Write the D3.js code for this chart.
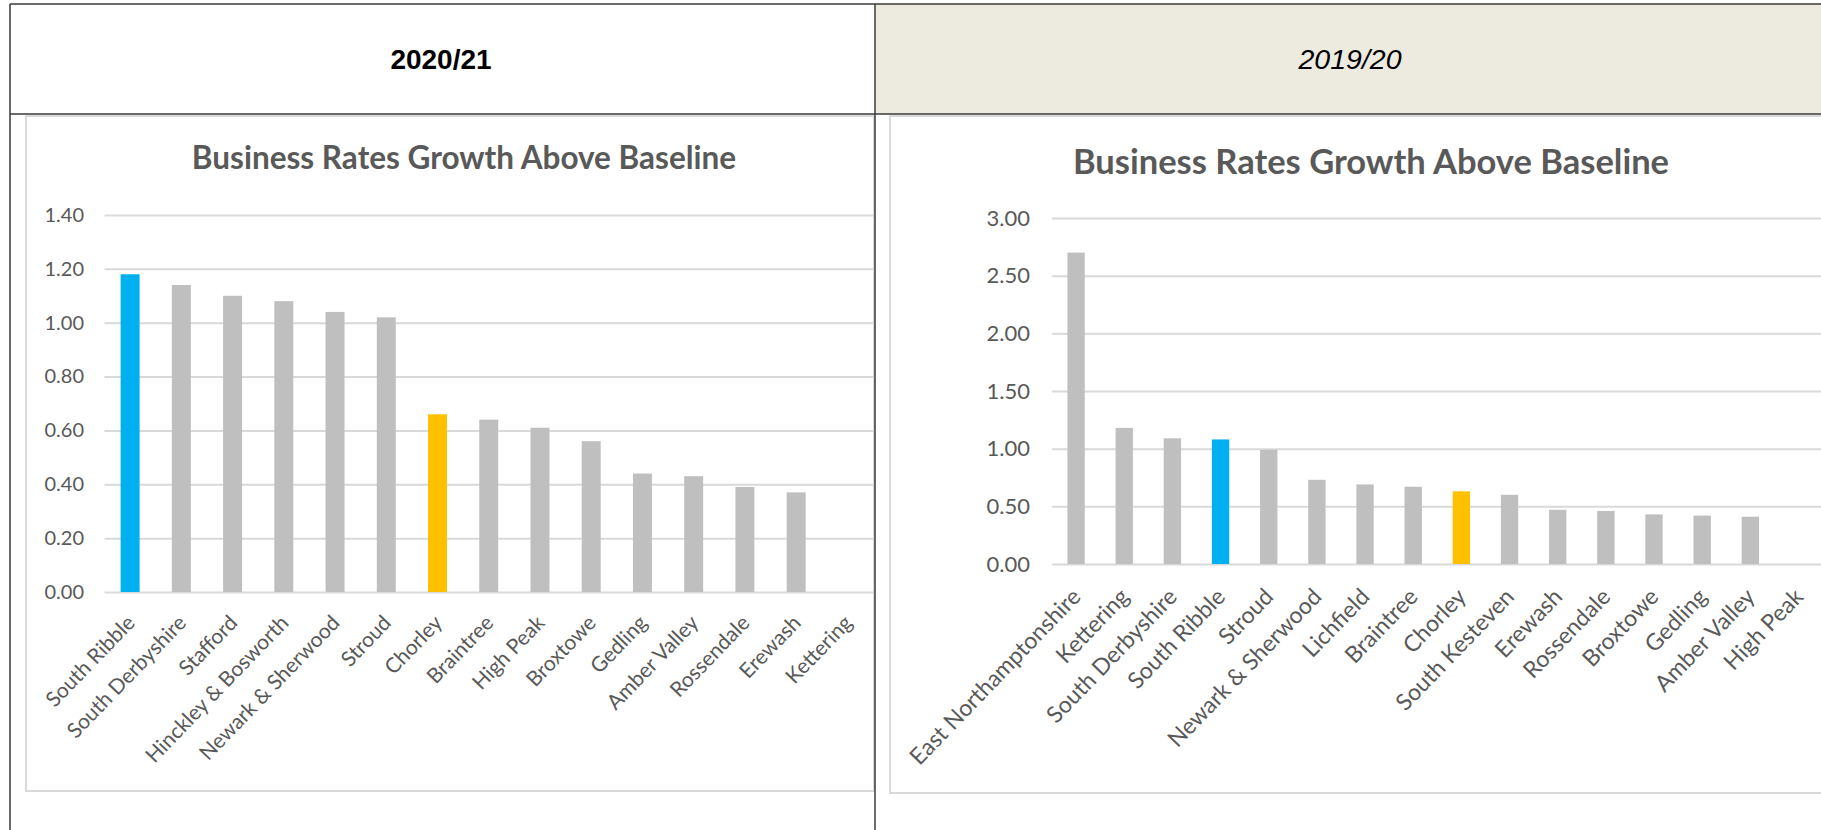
<!DOCTYPE html>
<html>
<head>
<meta charset="utf-8">
<script src="https://cdn.jsdelivr.net/npm/d3@7"></script>
<style>
  body { margin: 0; background: #fff; }
  svg { display: block; }
  text { font-family: Lato, "Open Sans", sans-serif; }
</style>
</head>
<body>
<svg id="canvas" width="1821" height="830"></svg>
<script>
// 2020/21 panel
const CATS_2021 = ["South Ribble", "South Derbyshire", "Stafford", "Hinckley & Bosworth",
    "Newark & Sherwood", "Stroud", "Chorley", "Braintree", "High Peak", "Broxtowe",
    "Gedling", "Amber Valley", "Rossendale", "Erewash", "Kettering"];
const VALS_2021 = [1.18, 1.14, 1.10, 1.08, 1.04, 1.02, 0.66, 0.64, 0.61, 0.56,
    0.44, 0.43, 0.39, 0.37, null];
const TICKS_2021 = [0, 0.2, 0.4, 0.6, 0.8, 1.0, 1.2, 1.4];

// 2019/20 panel
const CATS_1920 = ["East Northamptonshire", "Kettering", "South Derbyshire", "South Ribble",
    "Stroud", "Newark & Sherwood", "Lichfield", "Braintree", "Chorley", "South Kesteven",
    "Erewash", "Rossendale", "Broxtowe", "Gedling", "Amber Valley", "High Peak"];
const VALS_1920 = [2.70, 1.18, 1.09, 1.08, 0.99, 0.73, 0.69, 0.67, 0.63, 0.60,
    0.47, 0.46, 0.43, 0.42, 0.41, null];
const TICKS_1920 = [0, 0.5, 1.0, 1.5, 2.0, 2.5, 3.0];

const HEADERS = ["2020/21", "2019/20"];
const TITLE = "Business Rates Growth Above Baseline";

const BLUE = "#00B0F0";
const ORANGE = "#FFC000";
const GREY = "#BFBFBF";
const GRID = "#D9D9D9";
const TEXT = "#595959";
const BORDER = "#3a3a3a";

const svg = d3.select("#canvas");

function barColour(name) {
    if (name === "South Ribble") return BLUE;
    if (name === "Chorley") return ORANGE;
    return GREY;
}

// table background + borders
svg.append("rect")
    .attr("x", 875).attr("y", 4)
    .attr("width", 946).attr("height", 110)
    .attr("fill", "#EDEBE0");

// chart frames
svg.append("rect")
    .attr("x", 26).attr("y", 116)
    .attr("width", 848).attr("height", 675)
    .attr("fill", "#fff").attr("stroke", GRID).attr("stroke-width", 2);
svg.append("rect")
    .attr("x", 890).attr("y", 116)
    .attr("width", 960).attr("height", 677)
    .attr("fill", "#fff").attr("stroke", GRID).attr("stroke-width", 2);

const borders = [
    [10, 4, 1821, 4],
    [10, 114, 1821, 114],
    [10, 4, 10, 830],
    [875, 4, 875, 830]
];
svg.selectAll(".border")
    .data(borders)
    .enter()
    .append("line")
    .attr("class", "border")
    .attr("x1", d => d[0]).attr("y1", d => d[1])
    .attr("x2", d => d[2]).attr("y2", d => d[3])
    .attr("stroke", BORDER)
    .attr("stroke-width", 1.5);

svg.append("text")
    .attr("x", 441).attr("y", 69)
    .attr("text-anchor", "middle")
    .style("font-family", "Arial, 'Liberation Sans', sans-serif")
    .style("font-weight", "bold")
    .style("font-size", "28px")
    .attr("fill", "#000")
    .text(HEADERS[0]);

svg.append("text")
    .attr("x", 1350).attr("y", 69)
    .attr("text-anchor", "middle")
    .style("font-family", "Arial, 'Liberation Sans', sans-serif")
    .style("font-style", "italic")
    .style("font-size", "28.5px")
    .attr("fill", "#000")
    .text(HEADERS[1]);

function drawChart(opts) {
    const g = svg.append("g");
    const data = opts.cats.map((c, i) => ({ name: c, value: opts.vals[i] }));

    const x = d3.scaleBand()
        .domain(opts.cats)
        .range([opts.left, opts.right])
        .paddingInner(opts.pad)
        .paddingOuter(opts.pad / 2);

    const y = d3.scaleLinear()
        .domain([0, opts.max])
        .range([opts.bottom, opts.top]);

    g.append("text")
        .attr("x", opts.titleX).attr("y", opts.titleY)
        .attr("text-anchor", "middle")
        .style("font-weight", "bold")
        .style("font-size", opts.titleSize + "px")
        .attr("fill", TEXT)
        .text(TITLE);

    const yAxis = d3.axisLeft(y)
        .tickValues(opts.ticks)
        .tickFormat(d3.format(".2f"))
        .tickSize(-(opts.right - opts.left))
        .tickPadding(opts.left - opts.labelX);

    const ay = g.append("g")
        .attr("transform", `translate(${opts.left},0)`)
        .call(yAxis);
    ay.select(".domain").remove();
    ay.selectAll(".tick line")
        .attr("stroke", GRID)
        .attr("stroke-width", 2);
    ay.selectAll(".tick text")
        .attr("fill", TEXT)
        .style("font-size", opts.tickSize + "px")
        .style("font-family", "Lato, sans-serif");

    g.selectAll(".bar")
        .data(data.filter(d => d.value !== null))
        .enter()
        .append("rect")
        .attr("class", "bar")
        .attr("x", d => x(d.name))
        .attr("width", x.bandwidth())
        .attr("y", d => y(d.value))
        .attr("height", d => y(0) - y(d.value))
        .attr("fill", d => barColour(d.name));

    g.selectAll(".xlab")
        .data(data)
        .enter()
        .append("text")
        .attr("class", "xlab")
        .attr("text-anchor", "end")
        .attr("transform", d => `translate(${x(d.name) + x.bandwidth() / 2 + opts.labDx},${opts.bottom + opts.labDy}) rotate(-46)`)
        .style("font-size", opts.labSize + "px")
        .attr("fill", TEXT)
        .text(d => d.name);
}

drawChart({
    cats: CATS_2021, vals: VALS_2021, ticks: TICKS_2021, max: 1.4,
    left: 104.5, right: 873, top: 215, bottom: 592, pad: 0.63,
    labelX: 84, tickSize: 20, labSize: 21, labDx: 6, labDy: 32,
    titleX: 464, titleY: 169, titleSize: 31.5
});

drawChart({
    cats: CATS_1920, vals: VALS_1920, ticks: TICKS_1920, max: 3.0,
    left: 1052, right: 1822.6, top: 218, bottom: 564, pad: 0.64,
    labelX: 1030, tickSize: 22, labSize: 23, labDx: 6, labDy: 34,
    titleX: 1371, titleY: 174, titleSize: 34.5
});
</script>
</body>
</html>
